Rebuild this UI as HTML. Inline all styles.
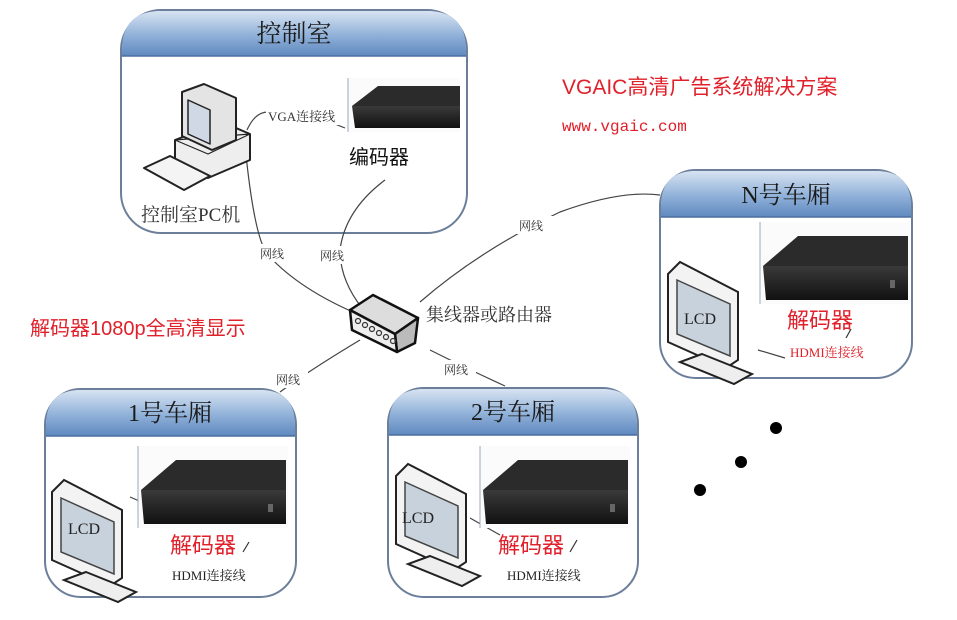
<!DOCTYPE html>
<html><head><meta charset="utf-8">
<style>
html,body{margin:0;padding:0;background:#fff;}
svg{display:block;}
.cn{font-family:"Liberation Serif","Noto Serif CJK SC",serif;}
.sans{font-family:"Liberation Sans","Noto Sans CJK SC",sans-serif;}
</style></head><body>
<svg width="957" height="620" viewBox="0 0 957 620" xmlns="http://www.w3.org/2000/svg">
<defs>
<linearGradient id="hd" x1="0" y1="0" x2="0" y2="1">
<stop offset="0" stop-color="#d7e3f2"/><stop offset="0.55" stop-color="#8fb0d8"/><stop offset="1" stop-color="#5f89bf"/>
</linearGradient>
<linearGradient id="box" x1="0" y1="0" x2="0" y2="1">
<stop offset="0" stop-color="#3a3a3a"/><stop offset="1" stop-color="#111"/>
</linearGradient>
<g id="dec">
<rect x="0" y="0" width="150" height="82" fill="#fbfbfb"/>
<line x1="0" y1="0" x2="0" y2="82" stroke="#9ab" stroke-width="1"/>
<polygon points="3,44 38,14 148,14 148,44" fill="#2b2b2b"/>
<polygon points="3,44 148,44 148,78 6,78" fill="url(#box)"/>
<rect x="130" y="58" width="5" height="8" fill="#666"/>
</g>
<g id="lcd">
<polygon points="0,12 12,0 70,30 70,98 58,106 0,80" fill="#f3f3f3" stroke="#222" stroke-width="2"/>
<polygon points="9,18 62,42 62,94 9,72" fill="#c8d2dc" stroke="#444" stroke-width="1.5"/>
<polygon points="34,92 84,112 66,122 12,100" fill="#eee" stroke="#222" stroke-width="2"/>
</g>
</defs>

<rect x="121" y="10" width="346" height="223" rx="40" fill="#fff" stroke="#6c7f9a" stroke-width="2"/>
<path d="M122,56 L122,50 Q122,11 161,11 L427,11 Q466,11 466,50 L466,56 Z" fill="url(#hd)"/>
<line x1="122" y1="56" x2="466" y2="56" stroke="#4b6fa0" stroke-width="1.5"/>
<text x="294" y="42" class="cn" font-size="25" fill="#1a1a1a" text-anchor="middle">控制室</text>

<rect x="660" y="170" width="252" height="208" rx="36" fill="#fff" stroke="#6c7f9a" stroke-width="2"/>
<path d="M661,217 L661,206 Q661,171 696,171 L876,171 Q911,171 911,206 L911,217 Z" fill="url(#hd)"/>
<line x1="661" y1="217" x2="911" y2="217" stroke="#4b6fa0" stroke-width="1.5"/>
<text x="786" y="203" class="cn" font-size="24" fill="#1a1a1a" text-anchor="middle">N号车厢</text>

<rect x="45" y="389" width="251" height="208" rx="36" fill="#fff" stroke="#6c7f9a" stroke-width="2"/>
<path d="M46,436 L46,425 Q46,390 81,390 L260,390 Q295,390 295,425 L295,436 Z" fill="url(#hd)"/>
<line x1="46" y1="436" x2="295" y2="436" stroke="#4b6fa0" stroke-width="1.5"/>
<text x="170" y="421" class="cn" font-size="24" fill="#1a1a1a" text-anchor="middle">1号车厢</text>

<rect x="388" y="388" width="250" height="209" rx="36" fill="#fff" stroke="#6c7f9a" stroke-width="2"/>
<path d="M389,435 L389,424 Q389,389 424,389 L602,389 Q637,389 637,424 L637,435 Z" fill="url(#hd)"/>
<line x1="389" y1="435" x2="637" y2="435" stroke="#4b6fa0" stroke-width="1.5"/>
<text x="513" y="420" class="cn" font-size="24" fill="#1a1a1a" text-anchor="middle">2号车厢</text>

<g fill="none" stroke="#444" stroke-width="1.2">
<path d="M246,155 Q255,240 268,255 Q300,290 360,315"/>
<path d="M385,180 Q345,210 340,250 Q340,280 362,308"/>
<path d="M420,302 Q480,250 560,212 Q620,190 660,195"/>
<path d="M360,340 Q310,370 280,392"/>
<path d="M430,350 Q470,370 505,386"/>
<path d="M247,130 Q255,112 268,112"/>
<path d="M330,122 L345,128"/>
<path d="M130,497 L165,512" />
<path d="M470,518 L500,535"/>
<path d="M758,350 L785,358"/>
</g>
<line x1="249" y1="542" x2="243" y2="552" stroke="#333" stroke-width="1.2"/>
<line x1="577" y1="540" x2="570" y2="552" stroke="#333" stroke-width="1.2"/>
<line x1="851" y1="329" x2="846" y2="338" stroke="#333" stroke-width="1.2"/>

<g class="cn" font-size="12" fill="#333">
<rect x="252" y="244" width="40" height="18" fill="#fff"/><text x="260" y="258">网线</text>
<rect x="316" y="246" width="38" height="18" fill="#fff"/><text x="320" y="260">网线</text>
<rect x="515" y="216" width="40" height="18" fill="#fff"/><text x="519" y="230">网线</text>
<rect x="272" y="370" width="36" height="18" fill="#fff"/><text x="276" y="384">网线</text>
<rect x="440" y="360" width="36" height="18" fill="#fff"/><text x="444" y="374">网线</text>
<rect x="266" y="107" width="76" height="18" fill="#fff"/><text x="268" y="121" font-size="13">VGA连接线</text>
</g>

<g stroke="#222" stroke-width="2" stroke-linejoin="round">
<polygon points="175,140 222,122 250,134 250,160 208,178 175,164" fill="#eee"/>
<polygon points="175,140 208,154 250,134" fill="none" stroke-width="1.2"/>
<polygon points="182,92 204,84 236,98 236,140 212,150 182,136" fill="#e4e4e4"/>
<polygon points="188,100 210,110 210,144 188,134" fill="#cfd8e4" stroke-width="1.5"/>
<polygon points="144,168 170,156 210,176 184,190" fill="#f4f4f4"/>
</g>
<rect x="348" y="78" width="112" height="54" fill="#fbfbfb"/>
<line x1="348" y1="78" x2="348" y2="132" stroke="#9ab"/>
<polygon points="352,106 378,86 460,86 460,106" fill="#2b2b2b"/>
<polygon points="352,106 460,106 460,128 355,128" fill="url(#box)"/>
<text x="349" y="164" class="sans" font-size="20" fill="#111">编码器</text>
<text x="141" y="221" class="cn" font-size="19" fill="#333">控制室PC机</text>

<g stroke="#111" stroke-width="2.5" stroke-linejoin="round">
<polygon points="350,310 373,295 418,318 395,334" fill="#ddd"/>
<polygon points="395,334 418,318 415,343 397,352" fill="#bbb"/>
<polygon points="350,310 395,334 397,352 352,330" fill="#eee"/>
</g>
<g fill="none" stroke="#333" stroke-width="1.2">
<circle cx="358" cy="321" r="2.5"/><circle cx="365" cy="325" r="2.5"/><circle cx="372" cy="329" r="2.5"/><circle cx="379" cy="333" r="2.5"/><circle cx="386" cy="337" r="2.5"/><circle cx="393" cy="341" r="2.5"/>
</g>
<text x="426" y="321" class="cn" font-size="18" fill="#333">集线器或路由器</text>

<text x="562" y="94" class="sans" font-size="21" fill="#e0202a">VGAIC高清广告系统解决方案</text>
<text x="562" y="131" font-family="Liberation Mono, monospace" font-size="16" fill="#e0202a">www.vgaic.com</text>
<text x="30" y="335" class="sans" font-size="20" fill="#e0202a">解码器1080p全高清显示</text>

<use href="#dec" x="138" y="446"/>
<use href="#lcd" x="52" y="480"/>
<text x="68" y="534" class="cn" font-size="16" fill="#222">LCD</text>
<text x="170" y="553" class="sans" font-size="22" fill="#e0202a">解码器</text>
<text x="172" y="580" class="cn" font-size="13" fill="#222">HDMI连接线</text>

<use href="#dec" x="480" y="446"/>
<use href="#lcd" x="396" y="464"/>
<text x="402" y="523" class="cn" font-size="16" fill="#222">LCD</text>
<text x="498" y="553" class="sans" font-size="22" fill="#e0202a">解码器</text>
<text x="507" y="580" class="cn" font-size="13" fill="#222">HDMI连接线</text>

<use href="#dec" x="760" y="222"/>
<use href="#lcd" x="668" y="262"/>
<text x="684" y="324" class="cn" font-size="16" fill="#222">LCD</text>
<text x="787" y="328" class="sans" font-size="22" fill="#e0202a">解码器</text>
<text x="790" y="357" class="cn" font-size="13" fill="#e0202a">HDMI连接线</text>

<circle cx="776" cy="428" r="6" fill="#000"/>
<circle cx="741" cy="462" r="6" fill="#000"/>
<circle cx="700" cy="490" r="6" fill="#000"/>
</svg>
</body></html>
